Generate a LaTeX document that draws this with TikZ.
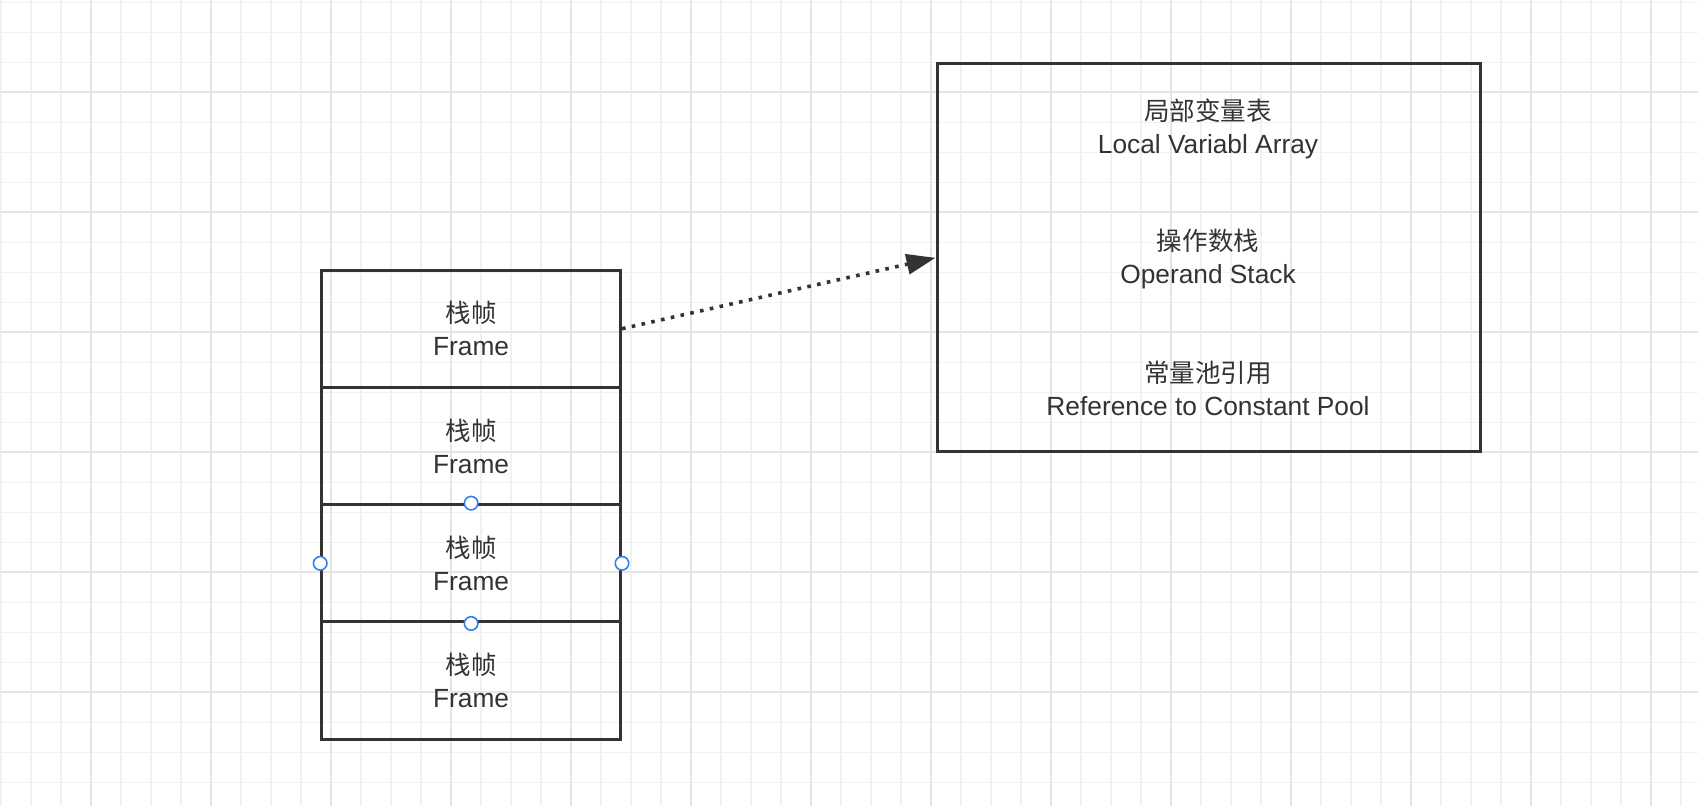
\documentclass[tikz,border=0pt]{standalone}
\usepackage{fontspec}
\setmainfont{Liberation Sans}
\newfontfamily\cjk{Noto Sans CJK SC}[Scale=0.97]
\usetikzlibrary{arrows.meta}
\definecolor{ink}{HTML}{333333}
\definecolor{gridminor}{HTML}{F1F1F1}
\definecolor{gridmajor}{HTML}{E5E5E5}
\definecolor{handle}{HTML}{3580E8}
\begin{document}
\begin{tikzpicture}[x=1pt,y=-1pt,
  txt/.style={text=ink, align=center, inner sep=0pt, font=\fontsize{26.3}{33}\selectfont},
  cell/.style={txt, draw=ink, line width=3pt, minimum width=298.8pt, minimum height=117.3pt},
  bigbox/.style={draw=ink, line width=3pt, minimum width=543pt, minimum height=387.7pt, inner sep=0pt},
  handledot/.style={circle, draw=handle, fill=white, line width=1.6pt, minimum size=13.5pt, inner sep=0pt},
  dotarrow/.style={draw=ink, line width=3.6pt, dash pattern=on 3.6pt off 6.4pt, -{Triangle[length=29pt,width=20pt,fill=ink]}}
]
\useasboundingbox (0,0) rectangle (1698,806);
\fill[white] (0,0) rectangle (1698,806);
% grid
\foreach \x in {0.7,30.7,...,1698} \draw[gridminor, line width=1.6pt] (\x,0) -- (\x,806);
\foreach \y in {2.3,32.3,...,806} \draw[gridminor, line width=1.6pt] (0,\y) -- (1698,\y);
\foreach \x in {90.7,210.7,...,1698} \draw[gridmajor, line width=1.8pt] (\x,0) -- (\x,806);
\foreach \y in {92.3,212.3,...,806} \draw[gridmajor, line width=1.8pt] (0,\y) -- (1698,\y);
% frames
\node[cell] (f1) at (471.1,328.7) {{\cjk 栈帧}\\Frame};
\node[cell] (f2) at (471.1,446) {{\cjk 栈帧}\\Frame};
\node[cell] (f3) at (471.1,563.3) {{\cjk 栈帧}\\Frame};
\node[cell] (f4) at (471.1,680.6) {{\cjk 栈帧}\\Frame};
% right box
\node[bigbox] (info) at (1208.5,257.8) {};
\node[txt] (lva) at (1208,129) {{\cjk 局部变量表}\\Local Variabl Array};
\node[txt] (ops) at (1208,259) {{\cjk 操作数栈}\\Operand Stack};
\node[txt] (rcp) at (1208,388) {{\cjk 常量池引用}\\Reference to Constant Pool};
% arrow
\draw[dotarrow] (f1.east) -- (info.west);
% handles
\node[handledot] (hn) at (f3.north) {};
\node[handledot] (hs) at (f3.south) {};
\node[handledot] (hw) at (f3.west) {};
\node[handledot] (he) at (f3.east) {};
\end{tikzpicture}
\end{document}
